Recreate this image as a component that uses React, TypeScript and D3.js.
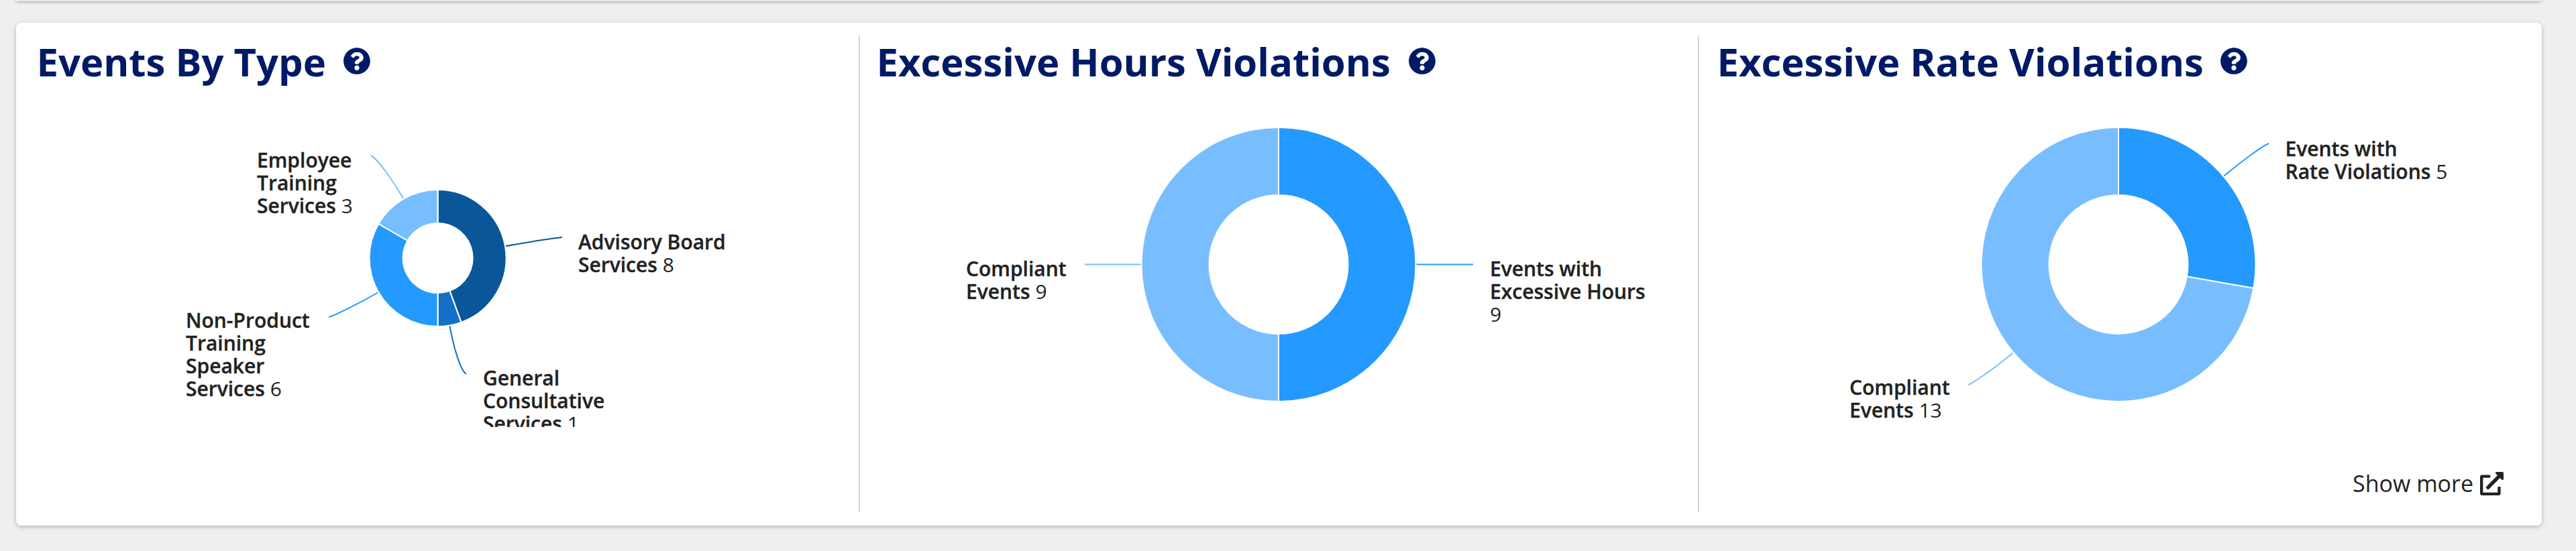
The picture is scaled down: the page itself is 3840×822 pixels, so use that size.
import React from "react";
import * as d3 from "d3";

const typeLabels = [["Advisory Board", "Services"], ["General", "Consultative", "Services"], ["Non-Product", "Training", "Speaker", "Services"], ["Employee", "Training", "Services"]];
const typeValues = [8, 1, 6, 3];
const hoursLabels = [["Events with", "Excessive Hours", ""], ["Compliant", "Events"]];
const hoursValues = [9, 9];
const rateLabels = [["Events with", "Rate Violations"], ["Compliant", "Events"]];
const rateValues = [5, 13];
const titles = ["Events By Type", "Excessive Hours Violations", "Excessive Rate Violations"];

const typeColors = ["#0A5699", "#1271C4", "#2499FF", "#78BEFF"];
const twoColors = ["#2499FF", "#78BEFF"];
const QUESTION = "M504 256c0 136.997-111.043 248-248 248S8 392.997 8 256C8 119.083 119.043 8 256 8s248 111.083 248 248zM262.655 90c-54.497 0-89.255 22.957-116.549 63.758-3.536 5.286-2.353 12.415 2.715 16.258l34.699 26.31c5.205 3.947 12.621 3.008 16.665-2.122 17.864-22.658 30.113-35.797 57.303-35.797 20.429 0 45.698 13.148 45.698 32.958 0 14.976-12.363 22.667-32.534 33.976C247.128 238.528 216 254.941 216 296v4c0 6.627 5.373 12 12 12h56c6.627 0 12-5.373 12-12v-1.333c0-28.462 83.186-29.647 83.186-106.667 0-58.002-60.165-102-116.531-102zM256 338c-25.365 0-46 20.635-46 46 0 25.364 20.635 46 46 46s46-20.636 46-46c0-25.365-20.635-46-46-46z";
const EXTERNAL = "M432,320H400a16,16,0,0,0-16,16V448H64V128H208a16,16,0,0,0,16-16V80a16,16,0,0,0-16-16H48A48,48,0,0,0,0,112V464a48,48,0,0,0,48,48H400a48,48,0,0,0,48-48V336A16,16,0,0,0,432,320ZM488,0h-128c-21.37,0-32.05,25.91-17,41l35.73,35.73L135,320.37a24,24,0,0,0,0,34L157.67,377a24,24,0,0,0,34,0L435.28,133.32,471,169c15,15,41,4.5,41-17V24A24,24,0,0,0,488,0Z";

const FONT = "'Open Sans', sans-serif";
const INK = "#222222";
const NAVY = "#001A66";

type Anchor = { tx: number; ty: number; ex: number; ey: number };
type Chart = {
  id: string; cx: number; cy: number; r: number; r0: number; values: number[]; labels: string[][];
  colors: string[]; anchors: Anchor[]; clipBottom?: number;
};

const charts: Chart[] = [
  { id: "type", cx: 652.6, cy: 385, r: 102, r0: 52, values: typeValues, labels: typeLabels, colors: typeColors, clipBottom: 637,
    anchors: [
      { tx: 862, ty: 371.5, ex: 838, ey: 354 },
      { tx: 720, ty: 574.5, ex: 695, ey: 558 },
      { tx: 277, ty: 488.5, ex: 490, ey: 473 },
      { tx: 383, ty: 249.5, ex: 553, ey: 232 },
    ] },
  { id: "hours", cx: 1906, cy: 394.5, r: 204.5, r0: 103.5, values: hoursValues, labels: hoursLabels, colors: twoColors,
    anchors: [
      { tx: 2221, ty: 411.5, ex: 2196, ey: 394.5 },
      { tx: 1440, ty: 411.5, ex: 1617, ey: 394.5 },
    ] },
  { id: "rate", cx: 3158, cy: 394.5, r: 204.5, r0: 103.5, values: rateValues, labels: rateLabels, colors: twoColors,
    anchors: [
      { tx: 3406.5, ty: 232.5, ex: 3382, ey: 214 },
      { tx: 2757, ty: 588.5, ex: 2934, ey: 574 },
    ] },
];

const headers = [
  { x: 54.5, icon: 532 },
  { x: 1306.5, icon: 2120 },
  { x: 2559.5, icon: 3330 },
];

function connector(c: Chart, mid: number, a: Anchor) {
  const sx = c.cx + c.r * Math.sin(mid);
  const sy = c.cy - c.r * Math.cos(mid);
  const dist = Math.hypot(a.ex - sx, a.ey - sy);
  const dir = a.ex > sx ? -1 : 1;
  const p = d3.path();
  p.moveTo(sx, sy);
  p.bezierCurveTo(
    sx + Math.sin(mid) * dist * 0.4, sy - Math.cos(mid) * dist * 0.4,
    a.ex + dir * dist * 0.12, a.ey + (sy - a.ey) * 0.08,
    a.ex, a.ey
  );
  return p.toString();
}

function Donut({ c }: { c: Chart }) {
  const arcs = d3.pie<number>().sort(null).startAngle(0).endAngle(2 * Math.PI)(c.values);
  const arc = d3.arc<d3.PieArcDatum<number>>().innerRadius(c.r0).outerRadius(c.r);
  return (
    <g clipPath={c.clipBottom ? `url(#clip-${c.id})` : undefined}>
      {c.clipBottom && (
        <clipPath id={`clip-${c.id}`}>
          <rect x={0} y={0} width={3840} height={c.clipBottom} />
        </clipPath>
      )}
      {arcs.map((d, i) => (
        <path key={"c" + i} d={connector(c, (d.startAngle + d.endAngle) / 2, c.anchors[i])} fill="none" stroke={c.colors[i]} strokeWidth={2} />
      ))}
      <g transform={`translate(${c.cx},${c.cy})`}>
        {arcs.map((d, i) => (
          <path key={"s" + i} d={arc(d) as string} fill={c.colors[i]} stroke="#fff" strokeWidth={2} strokeLinejoin="round" />
        ))}
      </g>
      {arcs.map((d, i) => {
        const a = c.anchors[i];
        const lines = c.labels[i];
        return (
          <text key={"t" + i} x={a.tx} y={a.ty} fontFamily={FONT} fontSize={30} fontWeight={600} fill={INK} stroke={INK} strokeWidth={0.35}>
            {lines.map((line, j) => {
              const last = j === lines.length - 1;
              return (
                <tspan key={j} x={a.tx} y={a.ty + j * 34}>
                  {line}
                  {last && <tspan fontWeight={400} stroke="none">{(line ? " " : "") + c.values[i]}</tspan>}
                </tspan>
              );
            })}
          </text>
        );
      })}
    </g>
  );
}

export default function App() {
  return (
    <svg width={3840} height={822} viewBox="0 0 3840 822" style={{ position: "absolute", left: 0, top: 0, display: "block" }}>
      <defs>
        <filter id="shadow" x="-2%" y="-10%" width="104%" height="120%">
          <feDropShadow dx={0} dy={2} stdDeviation={3} floodColor="#000" floodOpacity={0.25} />
        </filter>
      </defs>
      <rect width={3840} height={822} fill="#EFEFEF" />
      <rect x={24} y={-40} width={3764} height={41} fill="#fff" filter="url(#shadow)" />
      <rect x={24} y={34} width={3765} height={750} rx={8} fill="#fff" filter="url(#shadow)" />
      <line x1={1281} x2={1281} y1={53} y2={764} stroke="#D5D5D5" strokeWidth={2} />
      <line x1={2532} x2={2532} y1={53} y2={764} stroke="#D5D5D5" strokeWidth={2} />
      {titles.map((t, i) => (
        <g key={t}>
          <text x={headers[i].x} y={113.5} fontFamily={FONT} fontSize={58} fontWeight={700} fill={NAVY}>{t}</text>
          <path d={QUESTION} fill={NAVY} transform={`translate(${headers[i].icon - 20.5},${91 - 20.5}) scale(${41 / 512})`} />
        </g>
      ))}
      {charts.map((c) => <Donut key={c.id} c={c} />)}
      <text x={3507} y={733.5} fontFamily={FONT} fontSize={34} fontWeight={400} fill={INK}>Show more</text>
      <path d={EXTERNAL} fill={INK} transform={`translate(3697,704) scale(${35 / 512})`} />
    </svg>
  );
}
